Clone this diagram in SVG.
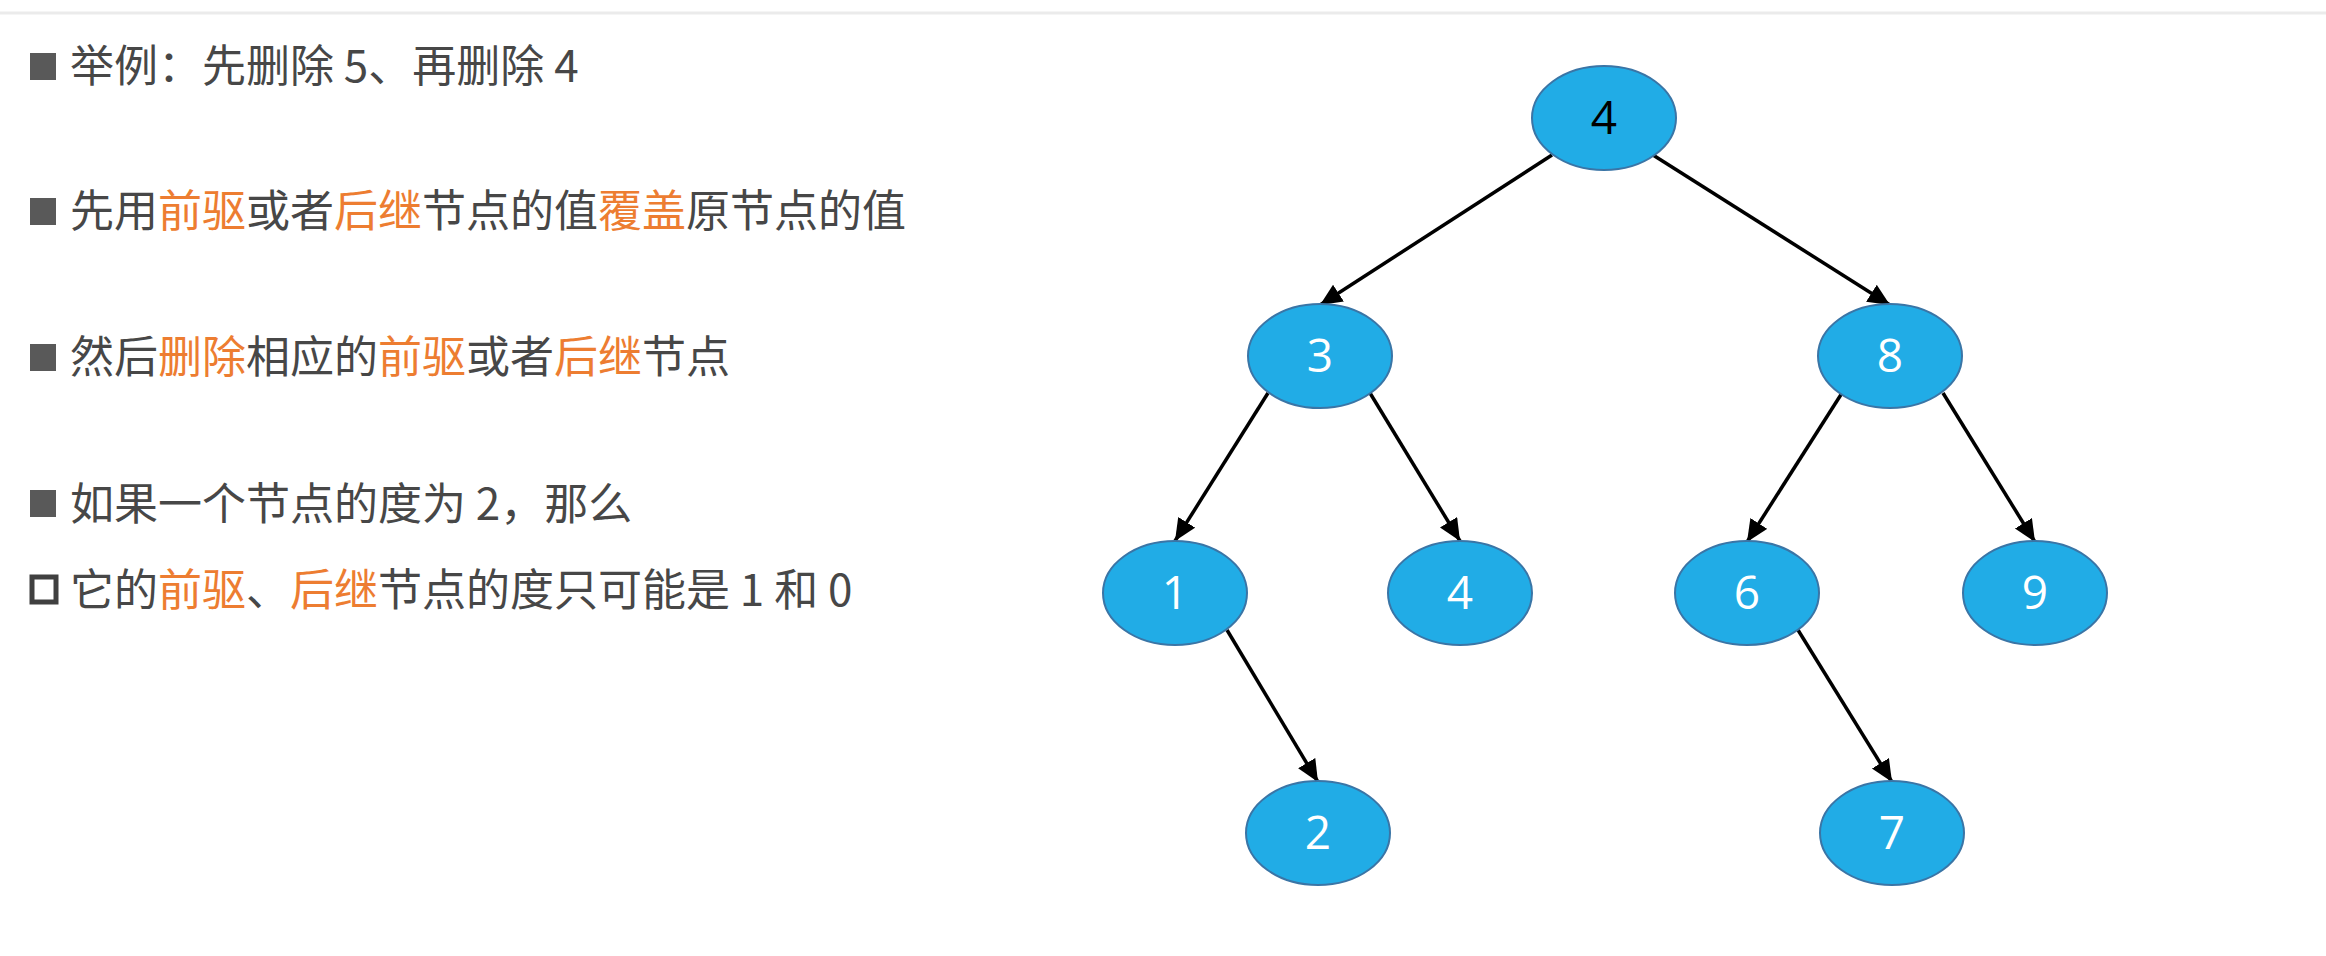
<svg xmlns="http://www.w3.org/2000/svg" width="2326" height="956" viewBox="0 0 2326 956">
  <style>
    .txt { font-family: "Noto Sans CJK SC", "Noto Sans", sans-serif; font-size: 44px; fill: #474747; }
    .hl { fill: #ED7D31; }
    .node ellipse { fill: #21ACE6; stroke: #3A75A6; stroke-width: 2; }
    .node text { font-family: "Open Sans", "Noto Sans", sans-serif; font-size: 46px; fill: #ffffff; text-anchor: middle; }
    .edge { stroke: #000; stroke-width: 3.5; fill: none; marker-end: url(#arrow); }
  </style>
  <defs>
    <marker id="arrow" markerUnits="userSpaceOnUse" markerWidth="24" markerHeight="22" refX="22" refY="10" orient="auto">
      <path d="M0,0 L22,10 L0,20 Z" fill="#000"/>
    </marker>
  </defs>
  <rect width="2326" height="956" fill="#ffffff"/>
  <line x1="0" y1="13" x2="2326" y2="13" stroke="#ebebeb" stroke-width="3"/>

  <g id="bullets-text">
    <rect x="30" y="53" width="26" height="27" fill="#595959"/>
    <text class="txt" x="70" y="82">举例：先删除 5、再删除 4</text>

    <rect x="30" y="198" width="26" height="27" fill="#595959"/>
    <text class="txt" x="70" y="227">先用<tspan class="hl">前驱</tspan>或者<tspan class="hl">后继</tspan>节点的值<tspan class="hl">覆盖</tspan>原节点的值</text>

    <rect x="30" y="344" width="26" height="27" fill="#595959"/>
    <text class="txt" x="70" y="373">然后<tspan class="hl">删除</tspan>相应的<tspan class="hl">前驱</tspan>或者<tspan class="hl">后继</tspan>节点</text>

    <rect x="30" y="490" width="26" height="27" fill="#595959"/>
    <text class="txt" x="70" y="520">如果一个节点的度为 2，那么</text>

    <rect x="32" y="577" width="24" height="25" fill="none" stroke="#404040" stroke-width="5"/>
    <text class="txt" x="70" y="606">它的<tspan class="hl">前驱</tspan>、<tspan class="hl">后继</tspan>节点的度只可能是 1 和 0</text>
  </g>

  <g id="connectors">
    <path class="edge" d="M1552,155 L1320,305"/>
    <path class="edge" d="M1653,155 L1890,305"/>
    <path class="edge" d="M1268,393 L1175,541"/>
    <path class="edge" d="M1370,393 L1460,541"/>
    <path class="edge" d="M1842,393 L1747,542"/>
    <path class="edge" d="M1943,393 L2035,542"/>
    <path class="edge" d="M1227,630 L1318,782"/>
    <path class="edge" d="M1798,630 L1892,782"/>
  </g>

  <g id="node-root-4" class="node">
    <ellipse cx="1604" cy="118" rx="72" ry="52"/>
    <text x="1604" y="134" style="fill:#000000">4</text>
  </g>
  <g id="node-3" class="node">
    <ellipse cx="1320" cy="356" rx="72" ry="52"/>
    <text x="1320" y="372">3</text>
  </g>
  <g id="node-8" class="node">
    <ellipse cx="1890" cy="356" rx="72" ry="52"/>
    <text x="1890" y="372">8</text>
  </g>
  <g id="node-1" class="node">
    <ellipse cx="1175" cy="593" rx="72" ry="52"/>
    <text x="1175" y="609">1</text>
  </g>
  <g id="node-4" class="node">
    <ellipse cx="1460" cy="593" rx="72" ry="52"/>
    <text x="1460" y="609">4</text>
  </g>
  <g id="node-6" class="node">
    <ellipse cx="1747" cy="593" rx="72" ry="52"/>
    <text x="1747" y="609">6</text>
  </g>
  <g id="node-9" class="node">
    <ellipse cx="2035" cy="593" rx="72" ry="52"/>
    <text x="2035" y="609">9</text>
  </g>
  <g id="node-2" class="node">
    <ellipse cx="1318" cy="833" rx="72" ry="52"/>
    <text x="1318" y="849">2</text>
  </g>
  <g id="node-7" class="node">
    <ellipse cx="1892" cy="833" rx="72" ry="52"/>
    <text x="1892" y="849">7</text>
  </g>
</svg>
